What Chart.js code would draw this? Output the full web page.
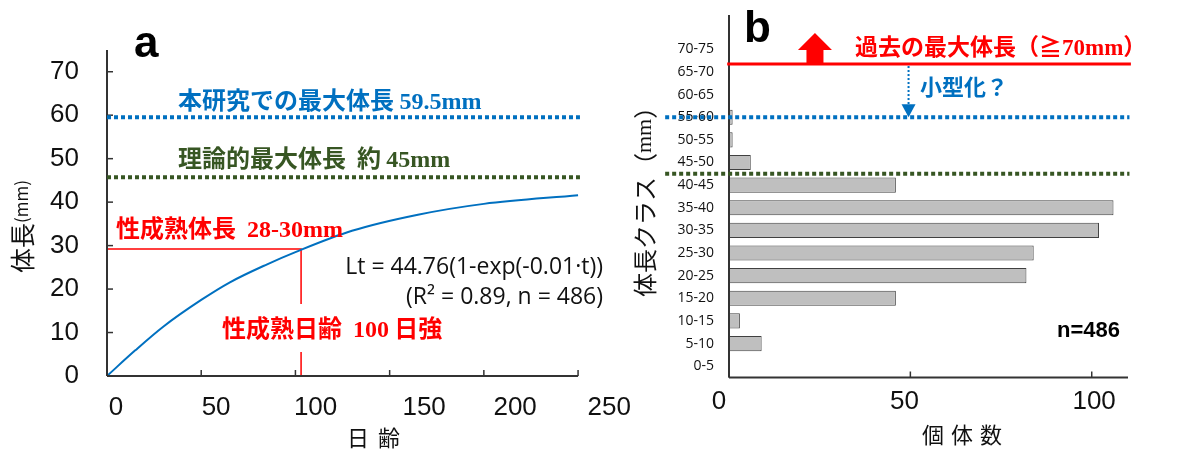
<!DOCTYPE html>
<html>
<head>
<meta charset="utf-8">
<script src="https://cdn.jsdelivr.net/npm/chart.js@4.4.0/dist/chart.umd.min.js"></script>
<style>
  body { margin: 0; background: #fff; width: 1188px; height: 450px; position: relative; overflow: hidden; }
  #growth { position: absolute; left: 0; top: 0; }
  #hist { position: absolute; left: 620px; top: 0; }
</style>
</head>
<body>
<canvas id="growth" width="650" height="450"></canvas>
<canvas id="hist" width="568" height="450"></canvas>
<script>
// panel a: growth curve
const ageDays = [0, 15, 30, 50, 65, 85, 100, 130, 165, 200, 250];
const bodyLength = [0, 5.9, 11.4, 17.5, 21.5, 25.7, 28.5, 33.4, 37.1, 39.6, 41.6];
const ageTicks = [0, 50, 100, 150, 200, 250];
const lengthTicks = [0, 10, 20, 30, 40, 50, 60, 70];
const matureAge = [0, 103, 103];
const matureLen = [29.2, 29.2, 0];
const studyMaxLen = 59.5;
const theoryMaxLen = 45.7;

// panel b: size class histogram
const sizeClasses = ['0-5', '5-10', '10-15', '15-20', '20-25', '25-30', '30-35', '35-40',
  '40-45', '45-50', '50-55', '55-60', '60-65', '65-70', '70-75'];
const classCounts = [0, 9, 3, 46, 82, 84, 102, 106, 46, 6, 1, 1, 0, 0, 0];
const countTicks = [0, 50, 100];

const BLUE = '#0070C0';
const GREEN = '#375623';
const RED = '#FF0000';
const AXIS = '#333333';
const JP = '"Noto Sans CJK JP", "Noto Sans", sans-serif';
const SERIF = '"Liberation Serif", "DejaVu Serif", serif';
const NARROW = '"Liberation Sans Narrow", "Liberation Sans", Arial, sans-serif';

// label nudges, the source figure has its tick labels slightly off the ticks
const ageLabelNudge = [4.8, 7.9, 10.7, 18.3, 16.6, 16.5];
const countLabelNudge = [-2.75, -1.6, 0.66];

function drawRuns(ctx, parts, x, y, align, baseline) {
  ctx.save();
  ctx.textAlign = 'left';
  ctx.textBaseline = baseline || 'alphabetic';
  let w = 0;
  parts.forEach(p => { ctx.font = p[1]; w += ctx.measureText(p[0]).width; });
  let cx = align === 'right' ? x - w : x;
  parts.forEach(p => {
    ctx.font = p[1];
    ctx.fillStyle = p[2];
    ctx.fillText(p[0], cx, y);
    cx += ctx.measureText(p[0]).width;
  });
  ctx.restore();
  return w;
}

function spaced(ctx, text, x, y, step, font, color) {
  ctx.save();
  ctx.font = font;
  ctx.fillStyle = color;
  ctx.textAlign = 'left';
  ctx.textBaseline = 'alphabetic';
  [...text].forEach((c, i) => ctx.fillText(c, x + i * step, y));
  ctx.restore();
}

function line(ctx, x1, y1, x2, y2, color, width, dash) {
  ctx.save();
  ctx.strokeStyle = color;
  ctx.lineWidth = width;
  ctx.setLineDash(dash || []);
  ctx.beginPath();
  ctx.moveTo(x1, y1);
  ctx.lineTo(x2, y2);
  ctx.stroke();
  ctx.restore();
}

const growthDeco = {
  id: 'growthDeco',
  afterDraw(chart) {
    const ctx = chart.ctx;
    const xs = chart.scales.x, ys = chart.scales.y;
    const x0 = xs.getPixelForValue(0), y0 = ys.getPixelForValue(0);
    // axes with inward ticks
    line(ctx, x0, y0, x0, ys.getPixelForValue(75), AXIS, 2);
    line(ctx, x0, y0, xs.getPixelForValue(250), y0, AXIS, 2);
    lengthTicks.forEach(v => { const p = ys.getPixelForValue(v); line(ctx, x0, p, x0 + 6, p, AXIS, 1.5); });
    ageTicks.forEach(v => { const p = xs.getPixelForValue(v); line(ctx, p, y0, p, y0 - 6, AXIS, 1.5); });

    // reference lines
    const yb = ys.getPixelForValue(studyMaxLen);
    const yg = ys.getPixelForValue(theoryMaxLen);
    line(ctx, x0, yb, xs.getPixelForValue(251), yb, BLUE, 4, [4, 3]);
    line(ctx, x0, yg, xs.getPixelForValue(251), yg, GREEN, 4, [4, 3]);

    drawRuns(ctx, [['本研究での最大体長 ', 'bold 24px ' + JP, BLUE], ['59.5mm', 'bold 24px ' + SERIF, BLUE]], 178, 109);
    drawRuns(ctx, [['理論的最大体長  約 ', 'bold 24px ' + JP, GREEN], ['45mm', 'bold 24px ' + SERIF, GREEN]], 178, 167);
    drawRuns(ctx, [['性成熟体長  ', 'bold 24px ' + JP, RED], ['28-30mm', 'bold 24px ' + SERIF, RED]], 116, 237);

    // maturity age label sits on a white box over the guide line
    ctx.save();
    ctx.fillStyle = '#fff';
    ctx.fillRect(220, 304, 240, 48);
    ctx.restore();
    drawRuns(ctx, [['性成熟日齢  ', 'bold 24px ' + JP, RED], ['100', 'bold 24px ' + SERIF, RED],
      [' 日強', 'bold 24px ' + JP, RED]], 222, 337);

    drawRuns(ctx, [['Lt = 44.76(1-exp(-0.01·t))', '23px "Open Sans", sans-serif', '#111']], 603, 274, 'right');
    drawRuns(ctx, [['(R² = 0.89, n = 486)', '23px "Open Sans", sans-serif', '#111']], 603, 304, 'right');

    drawRuns(ctx, [['a', 'bold 44px ' + NARROW, '#000']], 134, 57);

    // axis titles
    ctx.save();
    ctx.translate(22, 273);
    ctx.rotate(-Math.PI / 2);
    drawRuns(ctx, [['体長', '25px ' + JP, '#111'], ['(mm)', '17px ' + JP, '#111']], 0, 0, 'left', 'middle');
    ctx.restore();
    spaced(ctx, '日齢', 347, 446, 31, '22px ' + JP, '#111');
  }
};

new Chart(document.getElementById('growth'), {
  type: 'scatter',
  data: {
    datasets: [
      {
        data: ageDays.map((a, i) => ({ x: a, y: bodyLength[i] })),
        showLine: true,
        borderColor: BLUE,
        borderWidth: 2,
        pointRadius: 0,
        cubicInterpolationMode: 'monotone'
      },
      {
        data: matureAge.map((a, i) => ({ x: a, y: matureLen[i] })),
        showLine: true,
        borderColor: RED,
        borderWidth: 1.5,
        pointRadius: 0
      }
    ]
  },
  options: {
    responsive: false,
    animation: false,
    layout: { padding: { left: 0, right: 35, top: 50, bottom: 0 } },
    plugins: { legend: { display: false }, tooltip: { enabled: false } },
    scales: {
      x: { type: 'linear', min: 0, max: 269.6, display: false },
      xl: {
        type: 'linear',
        position: 'bottom',
        min: 0,
        max: 269.6,
        grid: { display: false, drawTicks: false },
        border: { display: false },
        afterBuildTicks: s => { s.ticks = ageTicks.map((v, i) => ({ value: v + ageLabelNudge[i] })); },
        afterFit: s => { s.height = 74; s.paddingLeft = 0; s.paddingRight = 0; },
        ticks: {
          autoSkip: false,
          maxRotation: 0,
          padding: 16,
          color: '#111',
          font: { family: NARROW, size: 26 },
          callback: (v, i) => String(ageTicks[i])
        }
      },
      y: {
        type: 'linear',
        min: 0,
        max: 75,
        grid: { display: false, drawTicks: false },
        border: { display: false },
        afterFit: s => { s.width = 107; },
        ticks: {
          stepSize: 10,
          includeBounds: false,
          padding: 28,
          color: '#111',
          font: { family: NARROW, size: 26 }
        }
      }
    }
  },
  plugins: [growthDeco]
});

const histDeco = {
  id: 'histDeco',
  afterDraw(chart) {
    const ctx = chart.ctx;
    const xs = chart.scales.x, ys = chart.scales.y;
    const area = chart.chartArea;
    const x0 = xs.getPixelForValue(0);
    // axes
    line(ctx, x0, area.bottom, x0, area.top - 23, AXIS, 2);
    line(ctx, x0, area.bottom, xs.getPixelForValue(110), area.bottom, AXIS, 2);
    countTicks.forEach(v => { const p = xs.getPixelForValue(v); line(ctx, p, area.bottom, p, area.bottom - 6, AXIS, 1.5); });

    // reference lines carried over from panel a (in class index units)
    const yb = ys.getPixelForValue(11);
    const yg = ys.getPixelForValue(8.5);
    const yr = ys.getPixelForValue(13.35);
    line(ctx, xs.getPixelForValue(-17.6), yb, xs.getPixelForValue(110.4), yb, BLUE, 4, [4, 3]);
    line(ctx, xs.getPixelForValue(-17.6), yg, xs.getPixelForValue(110.4), yg, GREEN, 4, [4, 3]);
    line(ctx, xs.getPixelForValue(-0.5), yr, xs.getPixelForValue(110.8), yr, RED, 3);

    // red block arrow pointing up
    const ax = xs.getPixelForValue(23.7);
    ctx.save();
    ctx.fillStyle = RED;
    ctx.beginPath();
    ctx.moveTo(ax, yr - 31);
    ctx.lineTo(ax + 17, yr - 14);
    ctx.lineTo(ax + 8.5, yr - 14);
    ctx.lineTo(ax + 8.5, yr);
    ctx.lineTo(ax - 8.5, yr);
    ctx.lineTo(ax - 8.5, yr - 14);
    ctx.lineTo(ax - 17, yr - 14);
    ctx.closePath();
    ctx.fill();
    ctx.restore();

    // blue dotted arrow down to the present max
    const bx = xs.getPixelForValue(49.5);
    line(ctx, bx, yr + 2, bx, yb - 12, BLUE, 2, [2, 2]);
    ctx.save();
    ctx.fillStyle = BLUE;
    ctx.beginPath();
    ctx.moveTo(bx - 7, yb - 13);
    ctx.lineTo(bx + 7, yb - 13);
    ctx.lineTo(bx, yb);
    ctx.closePath();
    ctx.fill();
    ctx.restore();

    drawRuns(ctx, [['過去の最大体長（≧', 'bold 23px ' + JP, RED], ['70mm', 'bold 23px ' + SERIF, RED],
      ['）', 'bold 23px ' + JP, RED]], 235, 55);
    drawRuns(ctx, [['小型化？', 'bold 22px ' + JP, BLUE]], 300, 95);
    drawRuns(ctx, [['n=486', 'bold 22px ' + NARROW, '#000']], 500, 337, 'right');
    drawRuns(ctx, [['b', 'bold 44px ' + NARROW, '#000']], 124, 42);

    ctx.save();
    ctx.translate(25, 297);
    ctx.rotate(-Math.PI / 2);
    drawRuns(ctx, [['体長クラス', '24px ' + JP, '#111'], ['（', '24px ' + JP, '#111'],
      ['mm', '22px ' + SERIF, '#111'], ['）', '24px ' + JP, '#111']], 0, 0, 'left', 'middle');
    ctx.restore();
    spaced(ctx, '個体数', 302, 443, 29, '22px ' + JP, '#111');
  }
};

new Chart(document.getElementById('hist'), {
  type: 'bar',
  data: {
    labels: sizeClasses,
    datasets: [{
      data: classCounts,
      backgroundColor: '#BFBFBF',
      borderColor: '#404040',
      borderWidth: 1,
      barPercentage: 0.67,
      categoryPercentage: 1
    }]
  },
  options: {
    indexAxis: 'y',
    responsive: false,
    animation: false,
    layout: { padding: { left: 0, right: 60, top: 38, bottom: 0 } },
    plugins: { legend: { display: false }, tooltip: { enabled: false } },
    scales: {
      x: { type: 'linear', min: 0, max: 110, display: false },
      xl: {
        type: 'linear',
        position: 'bottom',
        min: 0,
        max: 110,
        grid: { display: false, drawTicks: false },
        border: { display: false },
        afterBuildTicks: s => { s.ticks = countTicks.map((v, i) => ({ value: v + countLabelNudge[i] })); },
        afterFit: s => { s.height = 72.5; s.paddingLeft = 0; s.paddingRight = 0; },
        ticks: {
          autoSkip: false,
          maxRotation: 0,
          padding: 9,
          color: '#111',
          font: { family: NARROW, size: 26 },
          callback: (v, i) => String(countTicks[i])
        }
      },
      y: {
        type: 'category',
        reverse: true,
        grid: { display: false, drawTicks: false },
        border: { display: false },
        afterFit: s => { s.width = 109; },
        ticks: {
          autoSkip: false,
          padding: 15,
          color: '#111',
          font: { family: '"Open Sans", sans-serif', size: 14 }
        }
      }
    }
  },
  plugins: [histDeco]
});
</script>
</body>
</html>
